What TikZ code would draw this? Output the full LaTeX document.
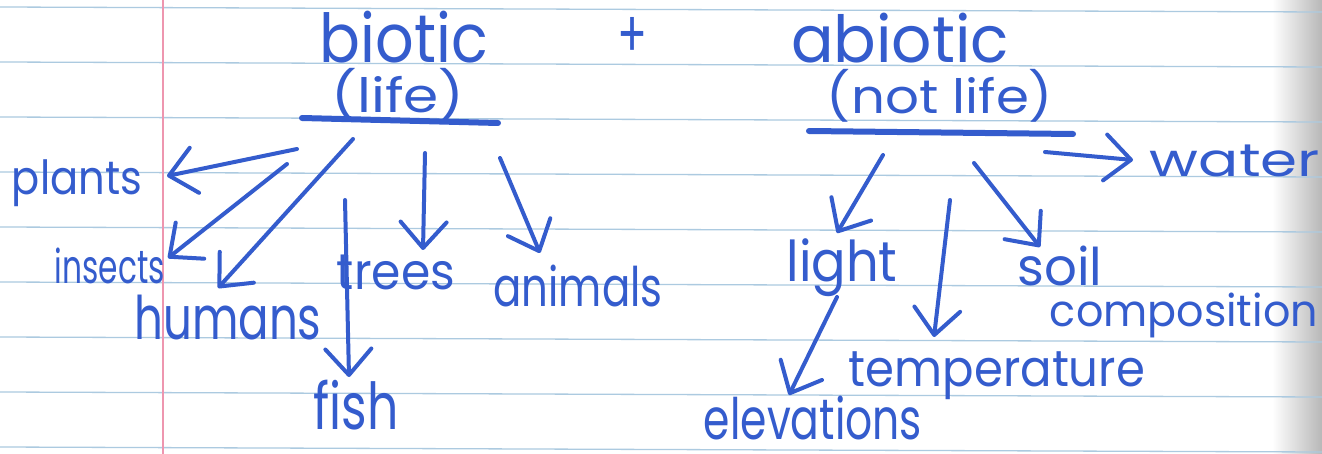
\documentclass[tikz,border=0pt]{standalone}
\usepackage{fontspec}
\newfontfamily\handfont{Poppins}
\usetikzlibrary{arrows.meta}
\definecolor{ink}{RGB}{52,92,205}
\definecolor{rulecol}{RGB}{172,202,224}
\definecolor{margincol}{RGB}{238,150,175}
% text fitted to a given width and total height
\newcommand\hw[3]{\resizebox*{#1pt}{#2pt}{#3}}
\begin{document}
\begin{tikzpicture}[x=1pt,y=-1pt,
  lbl/.style={inner sep=0pt,text=ink,font=\handfont},
  arr/.style={draw=ink,line width=4pt,line cap=round,-{Straight Barb[length=26pt,width=46pt,round]}},
  uline/.style={draw=ink,line width=6pt,line cap=round},
  rl/.style={draw=rulecol,line width=1.3pt}]
\useasboundingbox (0,0) rectangle (1322,454);
\fill[white] (0,0) rectangle (1322,454);
\shade[left color=white,right color=black!28] (1272,0) rectangle (1322,454);
\foreach \k in {0,...,8} \draw[rl] (0,7+55*\k) -- (1322,12+55*\k);
\draw[draw=margincol,line width=1.3pt] (163,0) -- (163,454);

% headings
\node[lbl] (biotic) at (404,37) {\hw{168}{52}{biotic}};
\node[lbl] (life) at (398,95) {\hw{133}{53}{(life)}};
\node[lbl] (plus) at (632,37) {\hw{30}{40}{+}};
\node[lbl] (abiotic) at (900,38) {\hw{218}{50}{abiotic}};
\node[lbl] (notlife) at (940,95.5) {\hw{226}{53}{(not life)}};
\draw[uline] (302,118) -- (498,123);
\draw[uline] (809,131) -- (1073,134);

% biotic items
\node[lbl] (plants) at (77,183.5) {\hw{130}{47}{plants}};
\node[lbl] (insects) at (110,266) {\hw{110}{36}{insects}};
\node[lbl] (humans) at (228,317.5) {\hw{187}{45}{humans}};
\node[lbl] (fish) at (356,405) {\hw{85}{50}{fish}};
\node[lbl] (trees) at (396,272.5) {\hw{118}{35}{trees}};
\node[lbl] (animals) at (578,286) {\hw{169}{42}{animals}};

% abiotic items
\node[lbl] (light) at (842,267.5) {\hw{111}{58}{light}};
\node[lbl] (soil) at (1060,266) {\hw{85}{40}{soil}};
\node[lbl] (composition) at (1184,315) {\hw{268}{45}{composition}};
\node[lbl] (temperature) at (997,376) {\hw{296}{48}{temperature}};
\node[lbl] (elevations) at (813,418) {\hw{218}{44}{elevations}};
\node[lbl] (water) at (1235,161) {\hw{170}{32}{water}};

% arrow tails
\coordinate (tplants) at (297,149);
\coordinate (tinsects) at (287,164);
\coordinate (thumans) at (353,139);
\coordinate (tfish) at (345,200);
\coordinate (ttrees) at (425,153);
\coordinate (tanimals) at (500,158);
\coordinate (tlight) at (883,155);
\coordinate (ttemp) at (950,200);
\coordinate (tsoil) at (974,163);
\coordinate (twater) at (1045,152);
\coordinate (telev) at (837,297);

\draw[arr] (tplants) -- ([xshift=90pt,yshift=7.5pt]plants.center);
\draw[arr] (tinsects) -- ([xshift=58pt,yshift=8pt]insects.center);
\draw[arr] (thumans) -- ([xshift=-10pt,yshift=29.5pt]humans.center);
\draw[arr] (tfish) -- ([xshift=-7pt,yshift=28pt]fish.center);
\draw[arr] (ttrees) -- ([xshift=27pt,yshift=22.5pt]trees.center);
\draw[arr] (tanimals) -- ([xshift=-38pt,yshift=33pt]animals.center);
\draw[arr] (tlight) -- ([xshift=-5pt,yshift=34.5pt]light.center);
\draw[arr] (ttemp) -- ([xshift=-63pt,yshift=39pt]temperature.center);
\draw[arr] (tsoil) -- ([xshift=-20pt,yshift=19pt]soil.center);
\draw[arr] (twater) -- ([xshift=-102pt,yshift=1pt]water.center);
\draw[arr] (telev) -- ([xshift=-24pt,yshift=23pt]elevations.center);
\end{tikzpicture}
\end{document}
